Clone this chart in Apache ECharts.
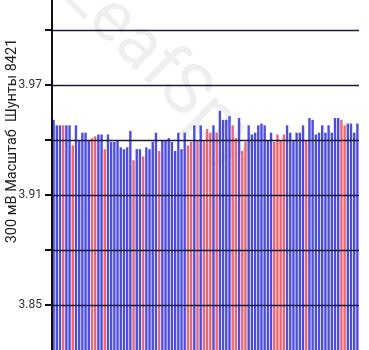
<!DOCTYPE html>
<html>
<head>
<meta charset="utf-8">
<script src="https://cdn.jsdelivr.net/npm/echarts@6/dist/echarts.min.js"></script>
<style>
html,body{margin:0;padding:0;background:#fff;overflow:hidden;width:369px;height:350px}
#c{position:absolute;left:0;top:-25px;width:369px;height:385px}
</style>
</head>
<body>
<div id="c"></div>
<script>
// Cell voltages (mV), 96 cells
const cellMv = [
  3951,3948,3948,3948,3948,3948,3937,3948,3940,3944,
  3944,3940,3941,3942,3943,3943,3935,3943,3939,3939,
  3940,3936,3935,3936,3945,3929,3935,3935,3931,3936,
  3935,3939,3944,3934,3940,3940,3941,3939,3934,3944,
  3935,3944,3937,3939,3948,3940,3948,3940,3946,3944,
  3948,3944,3956,3951,3951,3953,3948,3941,3952,3934,
  3939,3948,3943,3944,3948,3949,3948,3940,3944,3939,
  3943,3940,3943,3948,3944,3940,3944,3944,3948,3940,
  3952,3951,3943,3944,3948,3944,3948,3944,3952,3952,
  3951,3948,3949,3949,3944,3949
];
// 1 = shunt active (red), 0 = normal (blue)
const shuntOn = [
  0,0,0,1,0,0,1,0,0,0,
  0,0,1,1,0,0,1,0,0,0,
  0,0,0,0,0,1,0,0,1,0,
  0,0,0,1,0,0,0,0,0,0,
  0,0,1,1,0,1,0,1,1,1,
  0,1,0,0,0,0,1,1,0,1,
  1,0,0,0,0,0,0,0,0,1,
  1,1,1,0,0,0,0,0,0,1,
  0,0,0,0,0,0,0,0,0,0,
  1,1,0,0,0,0
];
const cellLabels = cellMv.map((_, i) => String(i + 1));
const yMin = 3.82, yMax = 4.03, yStep = 0.03;
const axisTitle = '300 мВ Масштаб  Шунты 8421';
const watermark = 'LeafSpy';

const chart = echarts.init(document.getElementById('c'));
chart.setOption({
  animation: false,
  textStyle: { fontFamily: 'Roboto' },
  grid: { left: 52, right: 10, top: 0, bottom: 0, containLabel: false, outerBoundsMode: 'none' },
  xAxis: {
    type: 'category',
    data: cellLabels,
    show: false
  },
  yAxis: {
    type: 'value',
    min: yMin, max: yMax, interval: yStep,
    z: 5,
    axisLine: { show: true, lineStyle: { color: '#111', width: 2 } },
    axisTick: { show: true, length: 7, lineStyle: { color: '#111', width: 2 } },
    splitLine: { show: true, lineStyle: { color: '#1a1a3a', width: 1.3 } },
    axisLabel: {
      color: '#333', fontSize: 12, margin: 10,
      formatter: v => {
        const k = Math.round((v - 3.85) / yStep);
        return (k % 2 === 0) ? v.toFixed(2) : '';
      }
    }
  },
  graphic: [
    {
      type: 'text', z: -10, x: 160, y: 95, rotation: -0.78,
      style: { text: watermark, fontSize: 70, fontFamily: 'Roboto', fill: '#efefef',
               align: 'center', verticalAlign: 'middle' }
    },
    {
      type: 'text', z: 10, x: 12, y: 166, rotation: Math.PI / 2,
      style: { text: axisTitle, fontSize: 14.5, fontFamily: 'Roboto', fill: '#222',
               align: 'center', verticalAlign: 'middle' }
    }
  ],
  series: [{
    type: 'bar',
    barCategoryGap: '25%',
    data: cellMv.map((mv, i) => ({
      value: mv / 1000,
      itemStyle: { color: shuntOn[i] ? '#ec6674' : '#4d4ddf' }
    }))
  }]
});
</script>
</body>
</html>
